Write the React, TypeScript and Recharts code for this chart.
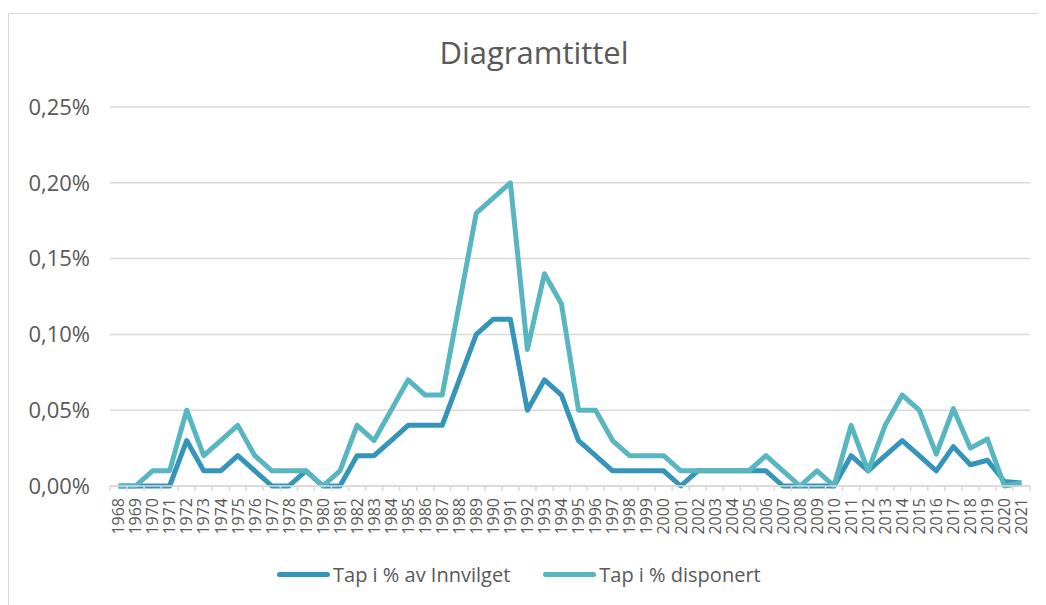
import React from "react";
import { LineChart, Line, XAxis, YAxis, CartesianGrid } from "recharts";

// ─── Data ────────────────────────────────────────────────────────────────────

const years = [
  "1968", "1969", "1970", "1971", "1972", "1973", "1974", "1975", "1976", "1977",
  "1978", "1979", "1980", "1981", "1982", "1983", "1984", "1985", "1986", "1987",
  "1988", "1989", "1990", "1991", "1992", "1993", "1994", "1995", "1996", "1997",
  "1998", "1999", "2000", "2001", "2002", "2003", "2004", "2005", "2006", "2007",
  "2008", "2009", "2010", "2011", "2012", "2013", "2014", "2015", "2016", "2017",
  "2018", "2019", "2020", "2021",
];

// Tap i % av Innvilget
const innvilget = [
  0, 0, 0, 0, 0.03, 0.01, 0.01, 0.02, 0.01, 0,
  0, 0.01, 0, 0, 0.02, 0.02, 0.03, 0.04, 0.04, 0.04,
  0.07, 0.1, 0.11, 0.11, 0.05, 0.07, 0.06, 0.03, 0.02, 0.01,
  0.01, 0.01, 0.01, 0, 0.01, 0.01, 0.01, 0.01, 0.01, 0,
  0, 0, 0, 0.02, 0.01, 0.02, 0.03, 0.02, 0.01, 0.026,
  0.014, 0.017, 0.003, 0.002,
];

// Tap i % disponert
const disponert = [
  0, 0, 0.01, 0.01, 0.05, 0.02, 0.03, 0.04, 0.02, 0.01,
  0.01, 0.01, 0, 0.01, 0.04, 0.03, 0.05, 0.07, 0.06, 0.06,
  0.12, 0.18, 0.19, 0.2, 0.09, 0.14, 0.12, 0.05, 0.05, 0.03,
  0.02, 0.02, 0.02, 0.01, 0.01, 0.01, 0.01, 0.01, 0.02, 0.01,
  0, 0.01, 0, 0.04, 0.01, 0.04, 0.06, 0.05, 0.021, 0.051,
  0.025, 0.031, 0, 0.002,
];

const yTicks = [0, 0.05, 0.1, 0.15, 0.2, 0.25];

const rows = years.map((year, i) => ({
  year,
  innvilget: innvilget[i],
  disponert: disponert[i],
}));

// ─── Layout ──────────────────────────────────────────────────────────────────

const W = 1038;
const H = 597;
const M = { top: 99, right: 16, left: 0, bottom: 59 };
const Y_AXIS_W = 102;
const X_AXIS_H = 60;
const STEP = (W - M.right - Y_AXIS_W) / years.length;

const GRID = "#d9d9d9";
const TEXT = "#595959";
const C1 = "#3494BA";
const C2 = "#58B6C0";
const FONT = "'Open Sans', sans-serif";

function pct(v: number) {
  return v.toFixed(2).replace(".", ",") + "%";
}

function YearTick(props: any) {
  const { x, y, payload, index } = props;
  const last = index === years.length - 1;
  return (
    <g transform={`translate(${x},${y})`}>
      <line x1={-STEP / 2} x2={-STEP / 2} y1={0} y2={5} stroke={GRID} strokeWidth={1.5} />
      {last && <line x1={STEP / 2} x2={STEP / 2} y1={0} y2={5} stroke={GRID} strokeWidth={1.5} />}
      <text
        transform="rotate(-90)"
        x={-12}
        y={0}
        dy="0.36em"
        textAnchor="end"
        fill={TEXT}
        fontSize={16}
        fontFamily={FONT}
      >
        {payload.value}
      </text>
    </g>
  );
}

function LegendItem({ color, label }: { color: string; label: string }) {
  return (
    <div style={{ display: "flex", alignItems: "center" }}>
      <div style={{ width: 53, height: 5, borderRadius: 3, background: color, marginRight: 3 }} />
      <span style={{ fontSize: 20, color: TEXT }}>{label}</span>
    </div>
  );
}

export default function App() {
  return (
    <div style={{ position: "relative", width: W, height: H, overflow: "hidden", fontFamily: FONT }}>
      <div
        style={{
          position: "absolute",
          left: 0,
          top: 5,
          width: 1060,
          height: 700,
          border: `1px solid ${GRID}`,
          boxSizing: "border-box",
        }}
      />
      <div
        style={{
          position: "absolute",
          left: 0,
          top: 29,
          width: 1052,
          textAlign: "center",
          fontSize: 31,
          lineHeight: "31px",
          color: TEXT,
        }}
      >
        Diagramtittel
      </div>
      <div style={{ position: "absolute", left: 0, top: 0 }}>
        <LineChart width={W} height={H} data={rows} margin={M} style={{ fontFamily: FONT }}>
          <CartesianGrid vertical={false} stroke={GRID} strokeWidth={1.5} />
          <XAxis
            dataKey="year"
            interval={0}
            height={X_AXIS_H}
            padding={{ left: STEP / 2, right: STEP / 2 }}
            axisLine={{ stroke: GRID, strokeWidth: 1.5 }}
            tickLine={false}
            tickSize={0}
            tickMargin={0}
            tick={<YearTick />}
          />
          <YAxis
            width={Y_AXIS_W}
            domain={[0, 0.25]}
            ticks={yTicks}
            tickFormatter={pct}
            axisLine={false}
            tickLine={false}
            tickMargin={14}
            tick={{ fontSize: 22, fill: TEXT }}
          />
          <Line
            type="linear"
            dataKey="innvilget"
            name="Tap i % av Innvilget"
            stroke={C1}
            strokeWidth={5}
            strokeLinejoin="round"
            dot={false}
            isAnimationActive={false}
          />
          <Line
            type="linear"
            dataKey="disponert"
            name="Tap i % disponert"
            stroke={C2}
            strokeWidth={5}
            strokeLinejoin="round"
            dot={false}
            isAnimationActive={false}
          />
        </LineChart>
      </div>
      <div style={{ position: "absolute", left: 269, top: 553, display: "flex", gap: 33 }}>
        <LegendItem color={C1} label="Tap i % av Innvilget" />
        <LegendItem color={C2} label="Tap i % disponert" />
      </div>
    </div>
  );
}
